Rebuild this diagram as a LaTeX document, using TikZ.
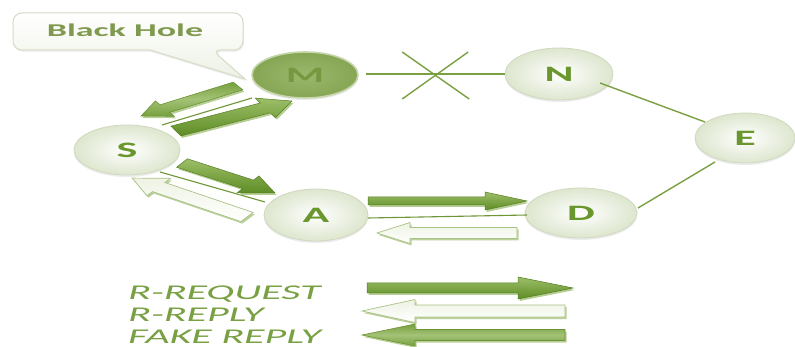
\documentclass[tikz,border=0pt]{standalone}
\usepackage{fontspec}
\setmainfont{Carlito}
\newfontfamily\widefont[FakeStretch=2.0]{Carlito}
\newfontfamily\legendfont[FakeStretch=2.0]{Carlito}
\usetikzlibrary{shapes.geometric,calc,shadows}

\definecolor{lettergreen}{HTML}{6A962E}
\definecolor{linkgreen}{HTML}{7BA042}
\definecolor{rimgreen}{HTML}{DDE6CE}
\definecolor{edgegreen}{HTML}{D0D9BF}
\definecolor{legendgreen}{HTML}{79A043}
\definecolor{olive}{HTML}{7F9A4F}
\definecolor{mcore}{HTML}{9BB86C}
\definecolor{mrim}{HTML}{86A654}
\definecolor{mring}{HTML}{C6D5AA}
\definecolor{mletter}{HTML}{769840}
\definecolor{thingreen}{HTML}{6E9636}
\definecolor{reqtop}{HTML}{5E8D25}
\definecolor{reqbot}{HTML}{9CBE68}
\definecolor{reqedge}{HTML}{557F22}
\definecolor{reqshade}{HTML}{B5CC92}
\definecolor{repbot}{HTML}{EEF3E4}
\definecolor{repedge}{HTML}{A9C285}
\definecolor{repshade}{HTML}{BCD09C}
\definecolor{fakemid}{HTML}{A3C276}
\definecolor{fakeout}{HTML}{77A03E}
\definecolor{fakeedge}{HTML}{6C9437}
\definecolor{fakeshade}{HTML}{B9CF98}
\definecolor{bubbleedge}{HTML}{D4DBC6}
\definecolor{bubblebot}{HTML}{EDF1E5}

% block arrow: style, tail, tip, shaft half width, head half width,
% head length, offset; built along x, then stretched 2:1 horizontally
\newdimen\arrdx \newdimen\arrdy
\newcommand\blockarrow[7]{%
  \pgfextractx{\arrdx}{\pgfpointdiff{\pgfpointanchor{#2}{center}}{\pgfpointanchor{#3}{center}}}%
  \pgfextracty{\arrdy}{\pgfpointdiff{\pgfpointanchor{#2}{center}}{\pgfpointanchor{#3}{center}}}%
  \pgfmathsetmacro\arrang{atan2(\arrdy,0.5*\arrdx)}%
  \pgfmathsetmacro\arrlen{veclen(0.5*\arrdx,\arrdy)}%
  \pgfmathsetmacro\arrbase{\arrlen-#6}%
  \begin{scope}[shift={(#2)}, shift={#7}, xscale=2, rotate=\arrang]
    \path[#1] (0pt,#4pt) -- (\arrbase pt,#4pt) -- (\arrbase pt,#5pt) -- (\arrlen pt,0pt)
      -- (\arrbase pt,-#5pt) -- (\arrbase pt,-#4pt) -- (0pt,-#4pt) -- cycle;
  \end{scope}}

\newcommand\requestarrow[5]{%
  \blockarrow{reqshadow}{#1}{#2}{#3}{#4}{#5}{(1.5pt,-2pt)}%
  \blockarrow{reqbody}{#1}{#2}{#3}{#4}{#5}{(0pt,0pt)}}
\newcommand\replyarrow[5]{%
  \blockarrow{replyshadow}{#1}{#2}{#3}{#4}{#5}{(1.5pt,-2pt)}%
  \blockarrow{replybody}{#1}{#2}{#3}{#4}{#5}{(0pt,0pt)}}
\newcommand\fakearrow[5]{%
  \blockarrow{fakeshadow}{#1}{#2}{#3}{#4}{#5}{(1.5pt,-2pt)}%
  \blockarrow{fakebody}{#1}{#2}{#3}{#4}{#5}{(0pt,0pt)}}

\tikzset{
  station/.style={ellipse, inner sep=0pt, draw=edgegreen, line width=0.8pt,
    inner color=white, outer color=rimgreen,
    font=\widefont\bfseries\fontsize{22}{22}\selectfont, text=lettergreen,
    drop shadow={shadow xshift=0pt, shadow yshift=-2pt, opacity=0.15}},
  attacker/.style={station, inner color=mcore, outer color=mrim,
    draw=mring, line width=1.6pt, text=mletter},
  link/.style={draw=linkgreen, line width=1.4pt},
  thinlink/.style={draw=thingreen, line width=1.1pt},
  reqbody/.style={top color=reqbot, bottom color=reqtop, draw=reqedge, line width=0.5pt},
  reqshadow/.style={fill=reqshade},
  replybody/.style={top color=repbot, bottom color=white, draw=repedge, line width=0.7pt},
  replyshadow/.style={fill=repshade},
  fakebody/.style={top color=fakeout, bottom color=fakeout, middle color=fakemid, draw=fakeedge, line width=0.6pt},
  fakeshadow/.style={fill=fakeshade},
  bubble/.style={draw=bubbleedge, line width=1pt, top color=white, bottom color=bubblebot,
    drop shadow={shadow xshift=1pt, shadow yshift=-2pt, opacity=0.12}},
  legendtext/.style={anchor=base west, inner sep=0pt, text=legendgreen,
    font=\legendfont\itshape\fontsize{21}{21}\selectfont},
}

\begin{document}
\begin{tikzpicture}[x=1pt,y=-1pt]
\fill[white] (0,0) rectangle (795,347);
\useasboundingbox (0,0) rectangle (795,347);

% callout
\path[bubble] [rounded corners=9pt] (13,13) -- (243,13) -- (243,50) -- (212,50)
  [sharp corners] -- (245,79) -- (150,50) [rounded corners=9pt] -- (13,50) -- cycle;
\node[font=\widefont\bfseries\fontsize{18}{18}\selectfont, text=olive, anchor=base, inner sep=0pt]
  (bh) at (125,37) {Black Hole};

% stations
\node[attacker, minimum width=106pt, minimum height=46pt] (M) at (305,75) {M};
\node[station, minimum width=106pt, minimum height=50pt] (S) at (127,150) {S};
\node[station, minimum width=104pt, minimum height=52pt] (A) at (316,215) {A};
\node[station, minimum width=112pt, minimum height=50pt] (D) at (581,213) {D};
\node[station, minimum width=108pt, minimum height=52pt] (N) at (559,74) {N};
\node[station, minimum width=100pt, minimum height=50pt] (E) at (745,138) {E};

% links
\coordinate (mn) at ($(M.east)+(7,-1)$);
\draw[link] (mn) -- (N.west);
\coordinate (cut) at ($(mn)!0.5!(N.west)$);
\draw[link] ($(cut)+(-33,-22)$) -- ($(cut)+(34,25)$);
\draw[link] ($(cut)+(33,-22)$) -- ($(cut)+(-33,25)$);
\coordinate (ne1) at ($(N.center)+(41,9)$);
\coordinate (ne2) at ($(E.center)+(-40,-16)$);
\draw[link] (ne1) -- (ne2);
\coordinate (ed1) at ($(E.center)+(-30,24)$);
\coordinate (ed2) at ($(D.center)+(57,-5)$);
\draw[link] (ed1) -- (ed2);

\coordinate (sm1) at ($(S.center)+(35,-25)$);
\coordinate (sm2) at ($(M.center)+(-53,23)$);
\draw[thinlink] (sm1) -- (sm2);
\coordinate (sa1) at ($(S.center)+(33,22)$);
\coordinate (sa2) at ($(A.center)+(-51,-13)$);
\draw[thinlink] (sa1) -- (sa2);
\coordinate (ad1) at ($(A.center)+(52,3)$);
\coordinate (ad2) at ($(D.center)+(-54,2)$);
\draw[thinlink] (ad1) -- (ad2);

% message arrows
\coordinate (f1) at (238,86);  \coordinate (f2) at (141,116);
\fakearrow{f1}{f2}{4.5}{9}{14}
\coordinate (q1) at (176,131); \coordinate (q2) at (292,101);
\requestarrow{q1}{q2}{5.5}{11}{15}
\coordinate (q3) at (182,163); \coordinate (q4) at (275,193);
\requestarrow{q3}{q4}{5}{10}{16}
\coordinate (r1) at (247,217); \coordinate (r2) at (132,178);
\replyarrow{r1}{r2}{5.5}{10.5}{16}
\coordinate (q5) at (368,201); \coordinate (q6) at (527,201);
\requestarrow{q5}{q6}{4}{9}{21}
\coordinate (r3) at (517,233); \coordinate (r4) at (377,233);
\replyarrow{r3}{r4}{5.5}{10.5}{16.5}

% legend
\node[legendtext] (lreq) at (128,299) {R-REQUEST};
\node[legendtext] (lrep) at (128,321) {R-REPLY};
\node[legendtext] (lfake) at (128,343) {FAKE REPLY};
\coordinate (k1) at (367,288); \coordinate (k2) at (573,288);
\requestarrow{k1}{k2}{5}{11}{27.5}
\coordinate (k3) at (565,311); \coordinate (k4) at (362,311);
\replyarrow{k3}{k4}{6}{11.5}{26.5}
\coordinate (k5) at (565,335); \coordinate (k6) at (362,335);
\fakearrow{k5}{k6}{5.5}{11}{26.5}
\end{tikzpicture}
\end{document}
